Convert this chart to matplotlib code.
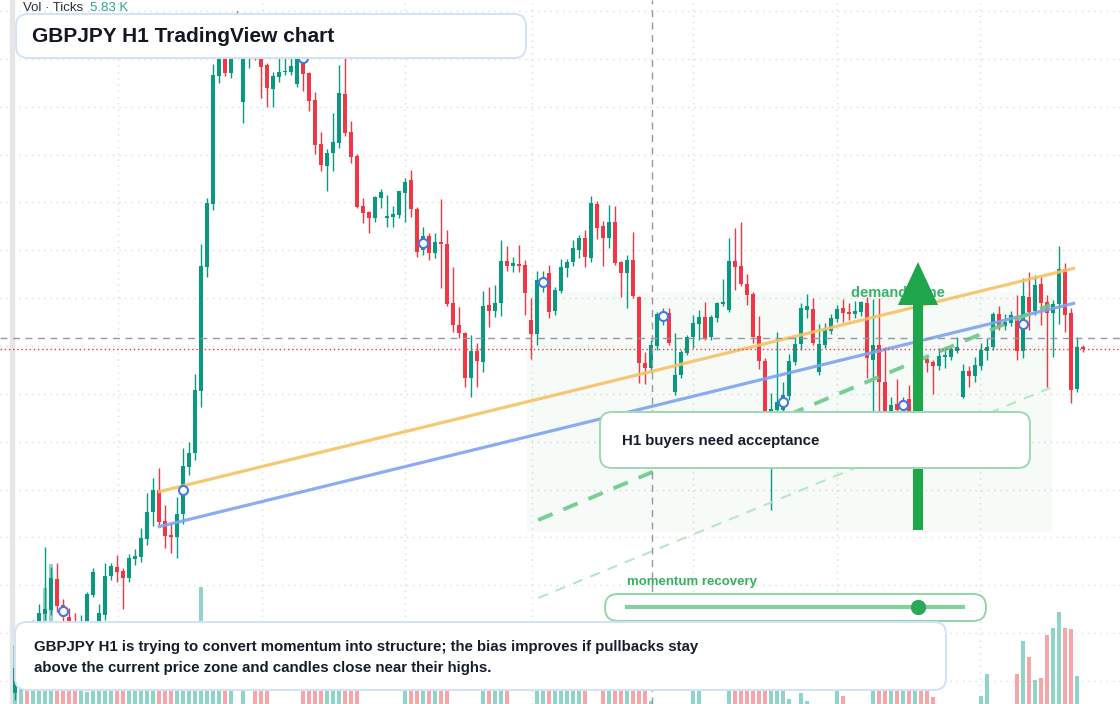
import numpy as np
import matplotlib.pyplot as plt
from matplotlib.patches import FancyBboxPatch, FancyArrow, Rectangle
from matplotlib.transforms import Affine2D

plt.rcParams['font.family'] = ['Liberation Sans', 'DejaVu Sans']

W, H = 1120, 704
first_bar = 2

opens = [190.07, 190.28, 190.50, 190.40, 190.78, 190.86, 190.90, 191.21, 190.95, 190.83,
         190.70, 190.55, 190.72, 191.05, 190.60, 190.85, 191.24, 191.33, 191.29, 191.22,
         191.41, 191.43, 191.61, 191.88, 192.10, 191.79, 191.65, 191.63, 191.86, 192.33,
         192.47, 193.09, 194.33, 194.96, 196.24, 196.51, 196.27, 196.78, 195.98, 196.50,
         196.57, 196.46, 196.35, 196.11, 196.23, 196.28, 196.28, 196.16, 196.58, 196.27,
         196.00, 195.56, 195.34, 195.47, 195.57, 196.06, 195.68, 195.44, 194.94, 194.88,
         194.82, 195.02, 194.82, 194.83, 194.85, 195.07, 195.20, 194.91, 194.50, 194.64,
         194.47, 194.58, 194.56, 193.97, 193.75, 193.67, 193.22, 193.49, 193.38, 193.95,
         193.89, 193.97, 194.39, 194.34, 194.36, 194.35, 193.80, 193.66, 194.15, 194.27,
         193.89, 194.09, 194.32, 194.38, 194.50, 194.62, 194.42, 194.96, 194.74, 194.62,
         194.78, 194.38, 194.27, 194.40, 194.03, 193.37, 193.32, 193.54, 193.82, 193.87,
         193.08, 193.25, 193.47, 193.63, 193.76, 193.83, 193.63, 193.82, 193.96, 193.90,
         194.39, 194.34, 194.16, 194.06, 193.64, 193.39, 192.73, 192.90, 192.90, 193.04,
         193.38, 193.56, 193.90, 193.91, 193.28, 193.55, 193.69, 193.81, 193.92, 193.88,
         193.86, 193.88, 193.97, 193.40, 193.55, 193.18, 192.87, 192.96, 192.91, 193.01,
         192.80, 193.72, 193.41, 193.38, 193.34, 193.43, 193.43, 193.49, 193.03, 193.29,
         193.24, 193.34, 193.49, 193.53, 193.86, 193.74, 193.77, 193.84, 193.49, 194.03,
         193.89, 194.16, 193.98, 193.87, 193.96, 194.31, 193.87, 193.11, 193.53]
highs = [190.40, 190.60, 190.65, 190.80, 190.96, 191.53, 191.33, 191.37, 191.01, 190.92,
         190.87, 190.85, 191.08, 191.32, 190.96, 191.37, 191.37, 191.45, 191.32, 191.46,
         191.51, 191.72, 192.07, 192.22, 192.32, 191.95, 191.77, 192.03, 192.52, 192.58,
         193.26, 194.56, 195.02, 196.36, 196.60, 196.55, 196.85, 196.89, 196.60, 196.60,
         196.62, 196.55, 196.37, 196.28, 196.44, 196.43, 196.57, 196.60, 196.65, 196.28,
         196.08, 195.68, 195.51, 195.87, 196.35, 196.42, 195.79, 195.46, 195.02, 194.89,
         195.04, 195.11, 195.05, 194.94, 195.09, 195.22, 195.30, 194.93, 194.73, 194.67,
         194.67, 195.01, 194.70, 194.33, 193.93, 193.68, 193.65, 193.57, 194.09, 194.13,
         194.15, 194.60, 194.54, 194.43, 194.55, 194.40, 194.02, 194.29, 194.29, 194.35,
         194.13, 194.41, 194.41, 194.60, 194.65, 194.70, 195.04, 194.99, 194.79, 194.95,
         194.94, 194.39, 194.45, 194.68, 194.04, 193.48, 193.60, 193.88, 193.92, 193.92,
         193.67, 193.50, 193.65, 193.85, 193.90, 193.98, 193.85, 193.98, 194.21, 194.62,
         194.72, 194.78, 194.26, 194.08, 193.84, 193.42, 193.07, 193.68, 193.18, 193.46,
         193.63, 193.97, 194.06, 194.02, 193.76, 193.77, 193.86, 193.95, 194.01, 193.97,
         193.99, 193.99, 194.03, 194.01, 194.02, 193.53, 193.03, 193.21, 193.03, 193.15,
         193.45, 193.78, 193.43, 193.40, 193.52, 193.52, 193.53, 193.63, 193.36, 193.34,
         193.43, 193.57, 193.62, 193.88, 193.94, 193.86, 193.89, 194.05, 194.22, 194.28,
         194.25, 194.25, 194.05, 194.00, 194.54, 194.37, 193.92, 193.63, 193.55]
lows = [190.00, 190.10, 190.28, 190.32, 190.72, 190.80, 190.85, 190.88, 190.73, 190.60,
        190.45, 190.40, 190.60, 191.03, 190.50, 190.80, 191.20, 191.18, 190.91, 191.18,
        191.35, 191.38, 191.55, 191.74, 191.75, 191.52, 191.47, 191.42, 191.76, 192.25,
        192.40, 192.93, 194.23, 194.90, 196.17, 196.24, 196.22, 196.72, 195.77, 196.32,
        196.40, 196.02, 195.93, 195.93, 196.18, 196.25, 196.25, 196.13, 196.09, 195.89,
        195.46, 195.29, 195.09, 195.29, 195.52, 195.64, 195.37, 194.92, 194.77, 194.67,
        194.78, 194.92, 194.73, 194.73, 194.82, 194.78, 194.83, 194.43, 194.45, 194.40,
        194.42, 194.12, 193.94, 193.68, 193.62, 193.13, 193.03, 193.13, 193.28, 193.73,
        193.83, 193.84, 194.29, 194.28, 194.28, 193.85, 193.41, 193.55, 194.08, 193.82,
        193.85, 194.07, 194.23, 194.34, 194.42, 194.33, 194.38, 194.61, 194.34, 194.52,
        194.35, 194.03, 193.92, 194.02, 193.17, 193.16, 193.28, 193.50, 193.75, 193.55,
        193.05, 193.22, 193.45, 193.52, 193.60, 193.60, 193.60, 193.78, 193.94, 193.88,
        194.10, 194.14, 193.95, 193.57, 193.31, 192.48, 191.90, 192.85, 192.83, 193.00,
        193.35, 193.50, 193.82, 193.55, 193.25, 193.52, 193.66, 193.78, 193.78, 193.80,
        193.82, 193.84, 193.22, 192.80, 192.60, 192.60, 192.67, 192.67, 192.75, 192.67,
        192.75, 193.38, 193.28, 193.06, 193.30, 193.32, 193.40, 193.47, 193.02, 193.13,
        193.18, 193.30, 193.40, 193.50, 193.70, 193.70, 193.74, 193.40, 193.42, 193.70,
        193.85, 193.75, 193.13, 193.43, 193.76, 193.68, 192.97, 193.08, 193.48]
closes = [190.32, 190.50, 190.40, 190.70, 190.87, 190.91, 191.22, 190.94, 190.83, 190.70,
          190.55, 190.72, 191.06, 191.28, 190.87, 191.24, 191.34, 191.28, 191.22, 191.42,
          191.44, 191.62, 191.88, 192.10, 191.78, 191.64, 191.63, 191.86, 192.34, 192.47,
          193.10, 194.34, 194.97, 196.25, 196.51, 196.27, 196.79, 196.80, 196.53, 196.57,
          196.45, 196.33, 196.12, 196.24, 196.28, 196.29, 196.34, 196.53, 196.26, 195.99,
          195.55, 195.35, 195.47, 195.58, 196.07, 195.67, 195.43, 194.93, 194.87, 194.82,
          195.03, 195.08, 194.84, 194.86, 195.09, 195.18, 194.91, 194.48, 194.64, 194.47,
          194.58, 194.56, 193.96, 193.75, 193.67, 193.22, 193.49, 193.39, 193.94, 193.89,
          193.97, 194.39, 194.34, 194.37, 194.34, 194.07, 193.66, 194.20, 194.22, 193.88,
          194.10, 194.33, 194.38, 194.52, 194.62, 194.43, 194.97, 194.72, 194.62, 194.78,
          194.37, 194.27, 194.40, 194.04, 193.37, 193.32, 193.55, 193.86, 193.86, 193.57,
          193.25, 193.48, 193.63, 193.77, 193.83, 193.62, 193.83, 193.97, 193.98, 194.39,
          194.33, 194.16, 194.05, 193.63, 193.39, 192.72, 192.91, 192.98, 193.05, 193.39,
          193.56, 193.92, 193.94, 193.57, 193.56, 193.71, 193.82, 193.91, 193.87, 193.86,
          193.89, 193.98, 193.42, 193.55, 193.18, 192.87, 192.95, 192.90, 193.00, 192.80,
          193.35, 193.40, 193.37, 193.34, 193.44, 193.45, 193.51, 193.53, 193.29, 193.24,
          193.35, 193.50, 193.53, 193.86, 193.73, 193.78, 193.85, 193.49, 194.04, 193.88,
          194.15, 193.97, 193.87, 193.96, 194.31, 193.85, 193.10, 193.53, 193.51]
# tick volume, thousands
volume_k = [12.3, 14.8, 10.0, 6.0, 7.1, 24.1, 29.1, 16.0, 15.4, 16.4,
            17.1, 3.5, 2.5, 9.2, 17.1, 11.2, 9.2, 7.1, 6.0, 9.2,
            5.0, 8.1, 11.2, 13.3, 10.2, 9.2, 7.1, 11.2, 13.3, 16.5,
            13.3, 24.3, 15.4, 12.0, 12, 10, 8, 0, 6, 0,
            9, 8, 4, 0, 0, 0, 0, 0, 3, 5,
            10, 8, 6, 7, 9, 10, 6, 4, 0, 0,
            0, 0, 0, 0, 0, 3, 5, 7, 6, 5,
            8, 6, 9, 0, 0, 0, 0, 0, 4, 6,
            5, 9, 3, 0, 0, 0, 0, 3, 5, 8,
            10, 12, 8, 6, 9, 5, 0, 0, 4.0, 5.2,
            12.9, 10.8, 8.5, 13.1, 9.4, 2.9, 0.6, 0, 0, 0,
            0, 0, 0, 2.7, 2.7, 0, 0, 0, 0, 5.8,
            8.3, 5.4, 2.9, 5.0, 4.2, 13.5, 16.6, 15.8, 7.5, 1.0,
            0, 2.3, 0.6, 0, 0, 0, 0, 6.7, 1.7, 0,
            0, 0, 0, 10.6, 14.6, 9.8, 8.3, 5.8, 7.5, 7.9,
            11.2, 11.0, 6.5, 1.5, 0, 0, 0, 0, 0, 0,
            0, 1.7, 6.2, 0, 0, 0, 0, 6.2, 13.1, 9.8,
            5.0, 5.4, 14.4, 15.8, 19.2, 15.8, 15.6, 5.83, 0]

grid_bars = [19.2, 43.2, 67.0, 88.2, 115.0, 139.0, 162.8]
trend_bars = [25.8, 178.7]
orange_trend = [192.08, 194.32]
blue_trend = [191.73, 193.97]
guide_bars = [89.2, 174.5]
green_guide = [191.80, 193.95]
light_guide = [191.02, 193.12]
zone_bars = [87.3, 174.8]
zone_prices = [191.68, 194.08]
cross_bar, cross_price = 108.2, 193.62
marker_every = 20

GREEN = '#089981'
RED = '#f23645'

o = np.array(opens); h = np.array(highs); l = np.array(lows); c = np.array(closes)
x = np.arange(len(o)) + first_bar
up = c >= o
col = np.where(up, GREEN, RED)

fig = plt.figure(figsize=(W / 100, H / 100), dpi=100)
ax = fig.add_axes([0, 0, 1, 1])
axv = ax.twinx()
ax.set_zorder(2)
ax.patch.set_visible(False)
axv.set_zorder(1)

# volume
axv.bar(x, volume_k, width=0.82, color=np.where(up, '#8fd4c9', '#f6a6a9'), zorder=2)
axv.set_ylim(0, 146.4)
gridc = '#dadde2'
for g in grid_bars:
    axv.axvline(g, color=gridc, lw=1.0, ls=(0, (1, 3.5)), zorder=0)
ax.set_xlim(-0.5, 186.17)
ax.set_ylim(189.96, 197.0)
for gp in 196.89 - 0.4785 * np.arange(15):
    axv.axhline((gp - 189.96) / 7.04 * 146.4, color=gridc, lw=1.0, ls=(0, (1, 3.5)), zorder=0)

# demand zone
ax.add_patch(Rectangle((zone_bars[0], zone_prices[0]), zone_bars[1] - zone_bars[0],
                       zone_prices[1] - zone_prices[0], color='#22ab58', alpha=0.04, lw=0, zorder=1))

# candles
ax.vlines(x, l, h, colors=col, lw=1.0, zorder=3)
body = np.maximum(np.abs(c - o), 0.015)
ax.bar(x, body, bottom=np.minimum(o, c), width=0.8, color=col, zorder=3)

# trend lines
ax.plot(trend_bars, orange_trend, color='#f7c264', lw=2.3, alpha=0.9, zorder=4, solid_capstyle='butt')
ax.plot(trend_bars, blue_trend, color='#7fa3ef', lw=2.3, alpha=0.9, zorder=4, solid_capstyle='butt')
ax.plot(guide_bars, green_guide, color='#6cc98b', lw=2.8, ls=(0, (4, 3)), alpha=0.9, zorder=4)
ax.plot(guide_bars, light_guide, color='#b9e6c7', lw=1.5, ls=(0, (5, 4)), zorder=4)

# crosshair and last price
ax.axvline(cross_bar, color='#9598a1', lw=1, ls=(0, (5, 4)), zorder=5)
ax.axhline(cross_price, color='#9598a1', lw=1, ls=(0, (5, 4)), zorder=5)
ax.axhline(c[-1], color=RED, lw=1, ls=(0, (1, 2)), zorder=5)

# circle markers every 20 bars
idx = np.arange(10 - first_bar, len(o), marker_every)
ax.plot(x[idx], (o[idx] + c[idx]) / 2, 'o', ms=6.5, mfc='white', mec='#4677e6', mew=1.5, zorder=6)

ax.axis('off')
axv.axis('off')

# overlay drawn in pixel space (origin top-left)
px = Affine2D().scale(1, -1).translate(0, H)

fig.add_artist(Rectangle((10, 0), 4, H, color='#e6e6e6', transform=px, zorder=1))

fig.text(851, 293, 'demand zone', transform=px, color='#39b36a', fontsize=10.5,
         fontweight='bold', va='center', zorder=2)
fig.add_artist(FancyArrow(918, 530, 0, -268, width=10, head_width=40, head_length=43,
                          length_includes_head=True, color='#1ea64b', lw=0,
                          transform=px, zorder=3))


def box(x0, y0, x1, y1, edge, alpha=0.88, r=12):
    p = FancyBboxPatch((x0, y0), x1 - x0, y1 - y0, boxstyle=f'round,pad=0,rounding_size={r}',
                       fc='white', ec=edge, lw=1.4, alpha=1, transform=px, zorder=4)
    p.set_facecolor((1, 1, 1, alpha))
    fig.add_artist(p)


box(600, 412, 1030, 468, '#9fd9b2')
fig.text(622, 441, 'H1 buyers need acceptance', transform=px, color='#151c2b',
         fontsize=10.8, fontweight='bold', va='center', zorder=5)

fig.text(627, 582, 'momentum recovery', transform=px, color='#33b25f',
         fontsize=9.5, fontweight='bold', va='center', zorder=5)
box(605, 594, 986, 621, '#93d6a8', r=13)
fig.add_artist(plt.Line2D([627, 963], [607, 607], color='#86d09e', lw=3, transform=px, zorder=5))
fig.add_artist(plt.Line2D([918], [607], marker='o', ms=10, color='#2aa758', transform=px, zorder=6))

box(15, 622, 946, 690, '#d3e2f6')
fig.text(34, 647, 'GBPJPY H1 is trying to convert momentum into structure; the bias improves if pullbacks stay',
         transform=px, color='#151c2b', fontsize=10.8, fontweight='bold', va='center', zorder=5)
fig.text(34, 668, 'above the current price zone and candles close near their highs.',
         transform=px, color='#151c2b', fontsize=10.8, fontweight='bold', va='center', zorder=5)

box(16, 14, 526, 58, '#d3e2f6', alpha=0.9)
fig.text(32, 36, 'GBPJPY H1 TradingView chart', transform=px, color='#131722',
         fontsize=15, fontweight='bold', va='center', zorder=5)

fig.text(23, 8, 'Vol · Ticks', transform=px, color='#2a2e39', fontsize=9.5, va='center', zorder=5)
fig.text(90, 8, '5.83 K', transform=px, color='#22ab94', fontsize=9.5, va='center', zorder=5)

fig.savefig('out.png', dpi=100)
